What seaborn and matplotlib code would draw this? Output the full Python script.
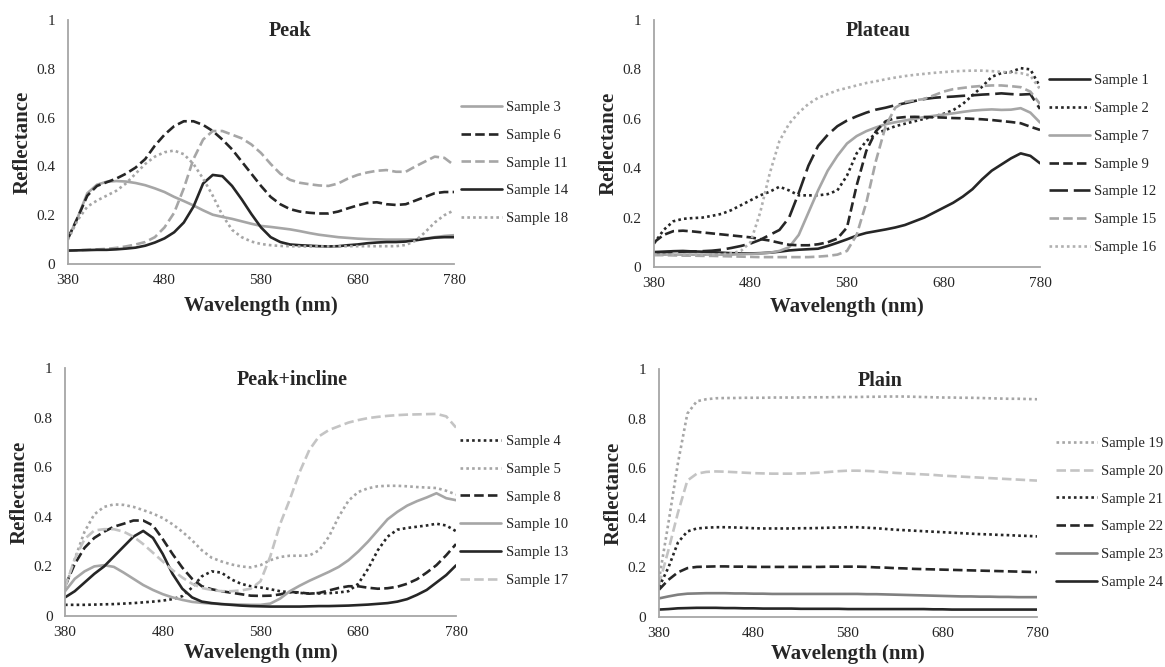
import matplotlib
matplotlib.use("Agg")
import matplotlib.pyplot as plt
import seaborn as sns
import pandas as pd

# wavelength grid (nm), shared by all panels
wavelength = list(range(380, 781, 10))

# ---- Peak ----
peak_samples = ["Sample 3", "Sample 6", "Sample 11", "Sample 14", "Sample 18"]
s3 = [0.105, 0.19, 0.29, 0.325, 0.337, 0.34, 0.338, 0.332, 0.323, 0.31, 0.295, 0.275, 0.258, 0.24, 0.22,
      0.202, 0.193, 0.185, 0.175, 0.165, 0.156, 0.152, 0.147, 0.142, 0.135, 0.127, 0.12, 0.115, 0.11, 0.107,
      0.104, 0.102, 0.101, 0.1, 0.1, 0.1, 0.101, 0.104, 0.11, 0.115, 0.118]
s6 = [0.105, 0.19, 0.28, 0.32, 0.335, 0.35, 0.37, 0.395, 0.43, 0.485, 0.53, 0.565, 0.585, 0.585, 0.57,
      0.545, 0.51, 0.47, 0.42, 0.37, 0.32, 0.275, 0.245, 0.225, 0.215, 0.21, 0.207, 0.207, 0.215, 0.228,
      0.24, 0.25, 0.253, 0.245, 0.242, 0.245, 0.26, 0.275, 0.29, 0.295, 0.295]
s11 = [0.055, 0.056, 0.058, 0.06, 0.062, 0.066, 0.072, 0.08, 0.09, 0.11, 0.15, 0.21, 0.31, 0.43, 0.51,
       0.545, 0.545, 0.53, 0.515, 0.49, 0.455, 0.41, 0.37, 0.345, 0.333, 0.327, 0.322, 0.32, 0.33, 0.35,
       0.365, 0.375, 0.382, 0.385, 0.378, 0.378, 0.4, 0.42, 0.44, 0.435, 0.405]
s14 = [0.055, 0.056, 0.057, 0.058, 0.058, 0.06, 0.063, 0.067, 0.075, 0.088, 0.105, 0.13, 0.17, 0.235, 0.33,
       0.365, 0.36, 0.32, 0.265, 0.205, 0.15, 0.11, 0.09, 0.08, 0.077, 0.075, 0.073, 0.072, 0.073, 0.077,
       0.08, 0.085, 0.088, 0.09, 0.09, 0.092, 0.097, 0.103, 0.108, 0.11, 0.11]
s18 = [0.1, 0.18, 0.235, 0.26, 0.28, 0.3, 0.33, 0.37, 0.41, 0.44, 0.458, 0.465, 0.45, 0.41, 0.35,
       0.28, 0.2, 0.14, 0.11, 0.092, 0.082, 0.077, 0.074, 0.073, 0.072, 0.072, 0.072, 0.072, 0.072, 0.073,
       0.073, 0.073, 0.073, 0.073, 0.073, 0.078, 0.095, 0.13, 0.17, 0.2, 0.22]

# ---- Plateau ----
plateau_samples = ["Sample 1", "Sample 2", "Sample 7", "Sample 9", "Sample 12", "Sample 15", "Sample 16"]
s1 = [0.06, 0.062, 0.064, 0.065, 0.063, 0.062, 0.06, 0.058, 0.056, 0.055, 0.055, 0.056, 0.058, 0.062, 0.067,
      0.07, 0.072, 0.074, 0.085, 0.098, 0.112, 0.127, 0.138, 0.145, 0.152, 0.16, 0.17, 0.185, 0.2, 0.22,
      0.24, 0.26, 0.285, 0.315, 0.355, 0.39, 0.415, 0.44, 0.46, 0.45, 0.42]
s2 = [0.095, 0.15, 0.185, 0.195, 0.198, 0.2, 0.207, 0.215, 0.23, 0.25, 0.27, 0.29, 0.305, 0.325, 0.31,
      0.29, 0.29, 0.29, 0.295, 0.31, 0.37, 0.46, 0.51, 0.54, 0.555, 0.57, 0.58, 0.59, 0.6, 0.61,
      0.62, 0.635, 0.66, 0.695, 0.73, 0.77, 0.785, 0.79, 0.805, 0.8, 0.73]
s7 = [0.05, 0.05, 0.05, 0.05, 0.05, 0.05, 0.05, 0.05, 0.05, 0.052, 0.053, 0.055, 0.058, 0.065, 0.08,
      0.13, 0.22, 0.31, 0.39, 0.45, 0.5, 0.53, 0.55, 0.565, 0.578, 0.586, 0.593, 0.6, 0.607, 0.612,
      0.617, 0.622, 0.628, 0.633, 0.636, 0.638, 0.636, 0.637, 0.643, 0.625, 0.585]
s9 = [0.1, 0.13, 0.145, 0.147, 0.144, 0.14, 0.136, 0.132, 0.128, 0.124, 0.12, 0.113, 0.107, 0.098, 0.09,
      0.088, 0.088, 0.092, 0.1, 0.115, 0.16, 0.33, 0.47, 0.55, 0.59, 0.603, 0.607, 0.608, 0.607, 0.606,
      0.605, 0.603, 0.602, 0.6, 0.598, 0.595, 0.591, 0.587, 0.582, 0.568, 0.555]
s12 = [0.06, 0.06, 0.061, 0.062, 0.063, 0.064, 0.066, 0.07, 0.077, 0.085, 0.095, 0.11, 0.13, 0.15, 0.2,
       0.3, 0.41, 0.49, 0.535, 0.57, 0.593, 0.61, 0.625, 0.637, 0.645, 0.655, 0.663, 0.672, 0.68, 0.685,
       0.688, 0.69, 0.693, 0.695, 0.698, 0.7, 0.703, 0.7, 0.698, 0.7, 0.64]
s15 = [0.048, 0.048, 0.047, 0.046, 0.046, 0.045, 0.045, 0.044, 0.043, 0.042, 0.041, 0.04, 0.04, 0.04, 0.04,
       0.04, 0.04, 0.042, 0.045, 0.05, 0.065, 0.13, 0.26, 0.43, 0.57, 0.645, 0.668, 0.675, 0.68, 0.695,
       0.71, 0.72, 0.725, 0.73, 0.733, 0.735, 0.735, 0.732, 0.728, 0.71, 0.66]
s16 = [0.05, 0.05, 0.05, 0.05, 0.05, 0.05, 0.05, 0.052, 0.055, 0.065, 0.1, 0.22, 0.38, 0.51, 0.58,
       0.625, 0.66, 0.685, 0.7, 0.715, 0.725, 0.735, 0.745, 0.752, 0.76, 0.767, 0.773, 0.778, 0.782, 0.786,
       0.789, 0.792, 0.794, 0.795, 0.795, 0.793, 0.79, 0.787, 0.785, 0.775, 0.72]

# ---- Peak+incline ----
incline_samples = ["Sample 4", "Sample 5", "Sample 8", "Sample 10", "Sample 13", "Sample 17"]
s4 = [0.045, 0.045, 0.045, 0.046, 0.047, 0.048, 0.05, 0.052, 0.055, 0.058, 0.062, 0.068, 0.08, 0.115, 0.16,
      0.18, 0.175, 0.148, 0.13, 0.12, 0.115, 0.108, 0.1, 0.096, 0.093, 0.091, 0.091, 0.092, 0.095, 0.1,
      0.13, 0.19, 0.265, 0.32, 0.348, 0.355, 0.36, 0.365, 0.372, 0.365, 0.342]
s5 = [0.11, 0.23, 0.34, 0.41, 0.44, 0.45, 0.448, 0.44, 0.427, 0.413, 0.395, 0.37, 0.34, 0.305, 0.265,
      0.235, 0.22, 0.208, 0.2, 0.196, 0.205, 0.225, 0.238, 0.243, 0.243, 0.244, 0.265, 0.32, 0.4, 0.465,
      0.5, 0.515, 0.523, 0.525, 0.525, 0.523, 0.52, 0.518, 0.516, 0.505, 0.49]
s8 = [0.12, 0.21, 0.275, 0.315, 0.34, 0.36, 0.372, 0.385, 0.385, 0.365, 0.31, 0.25, 0.195, 0.15, 0.12,
      0.108, 0.1, 0.094, 0.088, 0.082, 0.081, 0.082, 0.087, 0.097, 0.095, 0.09, 0.093, 0.103, 0.113, 0.12,
      0.12, 0.114, 0.11, 0.112, 0.118, 0.13, 0.148, 0.175, 0.205, 0.245, 0.29]
s10 = [0.1, 0.15, 0.18, 0.2, 0.205, 0.198, 0.175, 0.15, 0.125, 0.105, 0.088, 0.075, 0.065, 0.057, 0.053,
       0.05, 0.048, 0.047, 0.046, 0.045, 0.045, 0.05, 0.07, 0.1, 0.122, 0.142, 0.16, 0.178, 0.198, 0.225,
       0.26, 0.3, 0.345, 0.39, 0.42, 0.445, 0.463, 0.478, 0.495, 0.475, 0.467]
s13 = [0.075, 0.1, 0.135, 0.17, 0.2, 0.24, 0.28, 0.32, 0.343, 0.315, 0.25, 0.17, 0.11, 0.075, 0.058,
       0.052, 0.048, 0.045, 0.042, 0.04, 0.039, 0.038, 0.038, 0.038, 0.038, 0.039, 0.04, 0.04, 0.041, 0.042,
       0.044, 0.046, 0.049, 0.052, 0.058, 0.068, 0.085, 0.105, 0.135, 0.165, 0.204]
s17 = [0.115, 0.23, 0.31, 0.345, 0.35, 0.35, 0.34, 0.32, 0.29, 0.255, 0.22, 0.185, 0.155, 0.13, 0.113,
       0.105, 0.1, 0.1, 0.103, 0.11, 0.14, 0.24, 0.37, 0.47, 0.58, 0.67, 0.725, 0.75, 0.765, 0.78,
       0.79, 0.798, 0.803, 0.807, 0.81, 0.812, 0.813, 0.814, 0.815, 0.805, 0.76]

# ---- Plain ----
plain_samples = ["Sample 19", "Sample 20", "Sample 21", "Sample 22", "Sample 23", "Sample 24"]
s19 = [0.15, 0.38, 0.62, 0.82, 0.87, 0.878, 0.882, 0.883, 0.883, 0.884, 0.884, 0.884, 0.885, 0.885, 0.885,
       0.885, 0.886, 0.886, 0.886, 0.887, 0.887, 0.887, 0.888, 0.888, 0.889, 0.889, 0.889, 0.888, 0.887, 0.886,
       0.885, 0.885, 0.884, 0.884, 0.883, 0.882, 0.881, 0.88, 0.88, 0.879, 0.878]
s20 = [0.13, 0.27, 0.42, 0.55, 0.578, 0.585, 0.587, 0.586, 0.584, 0.582, 0.58, 0.579, 0.578, 0.578, 0.578,
       0.579, 0.58, 0.582, 0.585, 0.588, 0.59, 0.59, 0.589, 0.587, 0.584, 0.581, 0.579, 0.577, 0.575, 0.573,
       0.57, 0.568, 0.566, 0.564, 0.562, 0.56, 0.558, 0.556, 0.554, 0.552, 0.55]
s21 = [0.12, 0.2, 0.3, 0.345, 0.357, 0.36, 0.362, 0.362, 0.361, 0.36, 0.358, 0.357, 0.357, 0.357, 0.357,
       0.358, 0.358, 0.359, 0.36, 0.361, 0.362, 0.362, 0.36, 0.358, 0.355, 0.352, 0.35, 0.348, 0.346, 0.344,
       0.342, 0.34, 0.338, 0.336, 0.334, 0.333, 0.331, 0.33, 0.328, 0.327, 0.325]
s22 = [0.11, 0.15, 0.18, 0.197, 0.202, 0.203, 0.204, 0.204, 0.203, 0.203, 0.202, 0.202, 0.202, 0.202, 0.202,
       0.202, 0.202, 0.202, 0.203, 0.203, 0.203, 0.203, 0.202, 0.2, 0.199, 0.197, 0.196, 0.194, 0.193, 0.192,
       0.191, 0.19, 0.189, 0.188, 0.187, 0.186, 0.185, 0.184, 0.183, 0.182, 0.181]
s23 = [0.075, 0.083, 0.09, 0.094, 0.095, 0.096, 0.096, 0.096, 0.095, 0.095, 0.094, 0.094, 0.093, 0.093, 0.093,
       0.093, 0.093, 0.093, 0.093, 0.093, 0.093, 0.093, 0.092, 0.092, 0.091, 0.09, 0.089, 0.088, 0.087, 0.086,
       0.085, 0.084, 0.083, 0.083, 0.082, 0.082, 0.081, 0.081, 0.08, 0.08, 0.08]
s24 = [0.03, 0.032, 0.035, 0.036, 0.037, 0.037, 0.037, 0.036, 0.036, 0.035, 0.035, 0.034, 0.034, 0.034, 0.034,
       0.033, 0.033, 0.033, 0.033, 0.033, 0.032, 0.032, 0.032, 0.032, 0.032, 0.032, 0.032, 0.032, 0.032, 0.031,
       0.031, 0.03, 0.03, 0.03, 0.03, 0.03, 0.03, 0.03, 0.03, 0.03, 0.03]

x_ticks = [380, 480, 580, 680, 780]
y_ticks = [0, 0.2, 0.4, 0.6, 0.8, 1]
y_tick_labels = ["0", "0.2", "0.4", "0.6", "0.8", "1"]

# line looks (Excel-like greyscale)
BLACK, GREY, LIGHT, MID = "#262626", "#a6a6a6", "#c4c4c4", "#7f7f7f"
SOLID, DASH, LONG, DOT = "", (3.6, 1.6), (7, 2.2), (1, 1.2)
style = {
    "Sample 3": (GREY, SOLID), "Sample 6": (BLACK, DASH), "Sample 11": (GREY, DASH),
    "Sample 14": (BLACK, SOLID), "Sample 18": (GREY, DOT),
    "Sample 1": (BLACK, SOLID), "Sample 2": (BLACK, DOT), "Sample 7": (GREY, SOLID),
    "Sample 9": (BLACK, DASH), "Sample 12": (BLACK, LONG), "Sample 15": (GREY, DASH),
    "Sample 16": ("#b0b0b0", DOT),
    "Sample 4": (BLACK, DOT), "Sample 5": (GREY, DOT), "Sample 8": (BLACK, DASH),
    "Sample 10": (GREY, SOLID), "Sample 13": (BLACK, SOLID), "Sample 17": (LIGHT, DASH),
    "Sample 19": (GREY, DOT), "Sample 20": (LIGHT, DASH), "Sample 21": (BLACK, DOT),
    "Sample 22": (BLACK, DASH), "Sample 23": (MID, SOLID), "Sample 24": (BLACK, SOLID),
}

# title, samples, series, axes rect, legend anchor, title position, xlabel pad
panels = [
    ("Peak", peak_samples, [s3, s6, s11, s14, s18],
     [68 / 1165, 1 - 264 / 667, 386 / 1165, 244 / 667], (1.018, 0.414), (290 / 1165, 1 - 31 / 667), 7),
    ("Plateau", plateau_samples, [s1, s2, s7, s9, s12, s15, s16],
     [654 / 1165, 1 - 267 / 667, 386 / 1165, 247 / 667], (1.023, 0.417), (878 / 1165, 1 - 31 / 667), 5),
    ("Peak+incline", incline_samples, [s4, s5, s8, s10, s13, s17],
     [65 / 1165, 1 - 616 / 667, 391 / 1165, 248 / 667], (1.011, 0.424), (292 / 1165, 1 - 380 / 667), 3),
    ("Plain", plain_samples, [s19, s20, s21, s22, s23, s24],
     [659 / 1165, 1 - 617 / 667, 378 / 1165, 248 / 667], (1.05, 0.42), (880 / 1165, 1 - 381 / 667), 3),
]

sns.set_theme(style="white")
plt.rcParams["font.family"] = ["Liberation Serif", "DejaVu Serif"]
plt.rcParams["text.color"] = "#262626"

fig = plt.figure(figsize=(11.65, 6.67), dpi=100)

for title, names, series, rect, leg_pos, title_pos, xpad in panels:
    ax = fig.add_axes(rect)
    df = pd.DataFrame({
        "Wavelength": wavelength * len(names),
        "Reflectance": [v for s in series for v in s],
        "Sample": [n for n in names for _ in wavelength],
    })
    sns.lineplot(data=df, x="Wavelength", y="Reflectance", hue="Sample", style="Sample",
                 hue_order=names, style_order=names,
                 palette={n: style[n][0] for n in names},
                 dashes={n: style[n][1] for n in names},
                 linewidth=1.9, ax=ax)
    ax.set_xlim(380, 780)
    ax.set_ylim(0, 1)
    ax.set_xticks(x_ticks)
    ax.set_yticks(y_ticks)
    ax.set_yticklabels(y_tick_labels)
    ax.tick_params(length=0, labelsize=11, colors="#262626", pad=9)
    ax.tick_params(axis="x", pad=7)
    for side in ["top", "right"]:
        ax.spines[side].set_visible(False)
    for side in ["left", "bottom"]:
        ax.spines[side].set_color("#a6a6a6")
        ax.spines[side].set_linewidth(1.3)
    ax.set_xlabel("Wavelength (nm)", fontsize=15, fontweight="bold", labelpad=xpad)
    ax.set_ylabel("Reflectance", fontsize=15, fontweight="bold", labelpad=3)
    sns.move_legend(ax, loc="center left", bbox_to_anchor=leg_pos, frameon=False, title=None,
                    fontsize=10.5, handlelength=2.8, handletextpad=0.3, labelspacing=1.0,
                    borderaxespad=0, borderpad=0)
    fig.text(title_pos[0], title_pos[1], title, ha="center", va="center",
             fontsize=14.5, fontweight="bold")

fig.savefig("out.png", dpi=100)
